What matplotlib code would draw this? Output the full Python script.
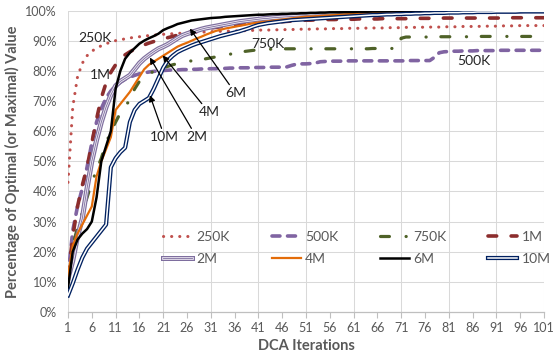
import matplotlib
matplotlib.use("Agg")
import matplotlib.pyplot as plt
from matplotlib.ticker import FixedLocator, FuncFormatter
from matplotlib.legend_handler import HandlerTuple

plt.rcParams['font.family'] = ['Lato', 'DejaVu Sans']

iterations = list(range(1, 102))

v250k = [
    43, 68, 78, 82.5, 85, 86.5, 87.5, 88.3, 89, 89.5,
    90, 90.3, 90.6, 90.9, 91.1, 91.3, 91.5, 91.7, 91.8, 92,
    92.1, 92.2, 92.3, 92.4, 92.5, 92.6, 92.6, 92.7, 92.8, 92.9,
    93.0, 93.0, 93.1, 93.1, 93.2, 93.2, 93.3, 93.3, 93.4, 93.4,
    93.5, 93.5, 93.5, 93.6, 93.6, 93.6, 93.7, 93.7, 93.7, 93.8,
    93.8, 93.8, 93.9, 93.9, 93.9, 94.0, 94.0, 94.0, 94.0, 94.1,
    94.1, 94.1, 94.1, 94.2, 94.2, 94.2, 94.2, 94.3, 94.3, 94.3,
    94.3, 94.4, 94.4, 94.4, 94.4, 94.5, 94.5, 94.5, 94.5, 94.6,
    94.6, 94.6, 94.6, 94.7, 94.7, 94.7, 94.7, 94.8, 94.8, 94.8,
    94.8, 94.9, 94.9, 94.9, 94.9, 95.0, 95.0, 95.0, 95.0, 95.0, 95.0]

v500k = [
    12, 27, 35, 41, 48, 56, 63, 67.5, 71, 73.3,
    75, 76.2, 77.2, 77.9, 78.5, 79, 79.3, 79.6, 79.8, 80,
    80.1, 80.2, 80.3, 80.3, 80.4, 80.4, 80.5, 80.5, 80.6, 80.6,
    80.7, 80.7, 80.8, 80.8, 80.9, 80.9, 81.0, 81.0, 81.0, 81.1,
    81.1, 81.1, 81.2, 81.2, 81.2, 81.2, 81.3, 81.8, 82.2, 82.3,
    82.3, 82.4, 82.6, 83.0, 83.1, 83.2, 83.2, 83.2, 83.2, 83.3,
    83.3, 83.3, 83.3, 83.3, 83.3, 83.3, 83.3, 83.3, 83.3, 83.3,
    83.3, 83.3, 83.4, 83.4, 83.4, 83.4, 83.4, 84.5, 86.0, 86.3,
    86.4, 86.5, 86.5, 86.6, 86.6, 86.6, 86.7, 86.7, 86.7, 86.7,
    86.7, 86.8, 86.8, 86.8, 86.8, 86.8, 86.8, 86.8, 86.8, 86.8, 86.8]

v750k = [
    11, 22, 28, 33, 38, 43, 47, 51, 56, 60,
    63, 66, 68, 70.5, 74, 76.5, 78, 79, 79.8, 80.5,
    81, 81.5, 82, 82.4, 82.8, 83.1, 83.3, 83.5, 83.7, 84,
    84.3, 84.6, 84.9, 85.2, 85.5, 85.8, 86.1, 86.4, 86.6, 86.8,
    86.9, 87.0, 87.1, 87.2, 87.2, 87.3, 87.3, 87.3, 87.3, 87.3,
    87.3, 87.3, 87.3, 87.3, 87.3, 87.3, 87.3, 87.3, 87.3, 87.3,
    87.3, 87.3, 87.3, 87.3, 87.4, 87.4, 87.4, 87.4, 87.4, 87.6,
    90.8, 91.2, 91.2, 91.2, 91.2, 91.2, 91.2, 91.3, 91.3, 91.3,
    91.3, 91.3, 91.3, 91.3, 91.3, 91.4, 91.4, 91.4, 91.4, 91.4,
    91.4, 91.4, 91.4, 91.4, 91.4, 91.4, 91.4, 91.4, 91.4, 91.4, 91.4]

v1m = [
    12, 25, 35, 42, 48, 56, 64, 71, 76, 79.5,
    82, 84, 85.3, 86.3, 87.2, 88, 88.6, 89.2, 89.7, 90.2,
    90.6, 91, 91.4, 91.8, 92.2, 92.6, 93, 93.3, 93.6, 93.9,
    94.2, 94.4, 94.6, 94.8, 95.0, 95.2, 95.3, 95.5, 95.6, 95.7,
    95.8, 95.9, 96.0, 96.1, 96.2, 96.3, 96.4, 96.5, 96.6, 96.7,
    96.8, 96.8, 96.9, 96.9, 97.0, 97.0, 97.0, 97.1, 97.1, 97.1,
    97.1, 97.2, 97.2, 97.2, 97.2, 97.2, 97.3, 97.3, 97.3, 97.3,
    97.3, 97.3, 97.4, 97.4, 97.4, 97.4, 97.4, 97.4, 97.4, 97.5,
    97.5, 97.5, 97.5, 97.5, 97.5, 97.5, 97.5, 97.5, 97.5, 97.5,
    97.5, 97.5, 97.5, 97.6, 97.6, 97.6, 97.6, 97.6, 97.6, 97.6, 97.6]

v2m = [
    11, 17, 25, 31, 41, 50, 57, 63, 68, 72,
    75, 76.5, 77.5, 78.5, 80.5, 82.5, 84, 85.2, 86.3, 87.3,
    88, 88.8, 89.8, 90.8, 91.7, 92.3, 92.8, 93.3, 93.8, 94.2,
    94.5, 94.8, 95.1, 95.4, 95.7, 96.0, 96.3, 96.5, 96.7, 96.9,
    97.1, 97.3, 97.4, 97.6, 97.7, 97.8, 97.9, 98.0, 98.1, 98.2,
    98.3, 98.4, 98.5, 98.6, 98.7, 98.8, 98.8, 98.9, 99.0, 99.0,
    99.1, 99.1, 99.2, 99.2, 99.3, 99.3, 99.3, 99.4, 99.4, 99.4,
    99.5, 99.5, 99.5, 99.5, 99.6, 99.6, 99.6, 99.6, 99.6, 99.7,
    99.7, 99.7, 99.7, 99.7, 99.7, 99.7, 99.8, 99.8, 99.8, 99.8,
    99.8, 99.8, 99.8, 99.8, 99.8, 99.8, 99.9, 99.9, 99.9, 99.9, 99.9]

v4m = [
    12, 22, 26, 29, 32, 35, 45, 50, 54, 58,
    67, 69, 71, 73, 75.5, 78, 80.5, 82, 83, 84,
    85, 86, 87, 88, 88.7, 89.3, 90, 90.7, 91.3, 92,
    92.6, 93.2, 93.6, 94.0, 94.3, 94.6, 94.9, 95.2, 95.5, 95.8,
    96.0, 96.2, 96.4, 96.6, 96.8, 97.0, 97.2, 97.4, 97.6, 97.8,
    97.9, 98.0, 98.1, 98.2, 98.3, 98.4, 98.5, 98.6, 98.7, 98.8,
    98.9, 98.9, 99.0, 99.0, 99.1, 99.1, 99.2, 99.2, 99.2, 99.3,
    99.3, 99.3, 99.4, 99.4, 99.4, 99.4, 99.5, 99.5, 99.5, 99.5,
    99.6, 99.6, 99.6, 99.6, 99.6, 99.7, 99.7, 99.7, 99.7, 99.7,
    99.7, 99.8, 99.8, 99.8, 99.8, 99.8, 99.8, 99.8, 99.8, 99.8, 99.8]

v6m = [
    8, 20, 24, 26, 27.5, 30, 38, 50, 55, 60,
    74, 80, 84, 86, 87.5, 89, 90, 90.8, 91.5, 92.3,
    93.5, 94.2, 94.8, 95.5, 95.9, 96.3, 96.7, 96.9, 97.1, 97.3,
    97.5, 97.6, 97.7, 97.9, 98.0, 98.1, 98.2, 98.3, 98.4, 98.5,
    98.6, 98.6, 98.7, 98.8, 98.8, 98.9, 98.9, 99.0, 99.0, 99.1,
    99.1, 99.2, 99.2, 99.3, 99.3, 99.4, 99.4, 99.4, 99.5, 99.5,
    99.5, 99.6, 99.6, 99.6, 99.7, 99.7, 99.7, 99.7, 99.8, 99.8,
    99.8, 99.8, 99.8, 99.8, 99.9, 99.9, 99.9, 99.9, 99.9, 99.9,
    99.9, 99.9, 99.9, 99.9, 99.9, 100, 100, 100, 100, 100,
    100, 100, 100, 100, 100, 100, 100, 100, 100, 100, 100]

v10m = [
    5.5, 9.5, 14, 18, 21, 23, 25, 27, 29, 48,
    51, 53, 54.5, 63, 67, 69, 70, 71, 74, 77.5,
    81, 83.5, 85, 86.2, 87, 87.7, 88.4, 89, 89.5, 90,
    90.5, 91.0, 91.5, 91.9, 92.3, 92.7, 93.1, 93.6, 94.1, 94.7,
    95.2, 95.5, 95.8, 96.0, 96.2, 96.4, 96.6, 96.8, 96.9, 97.0,
    97.1, 97.2, 97.3, 97.4, 97.5, 97.6, 97.7, 97.8, 97.9, 98.0,
    98.1, 98.2, 98.3, 98.4, 98.5, 98.5, 98.6, 98.7, 98.7, 98.8,
    98.8, 98.9, 98.9, 99.0, 99.0, 99.1, 99.1, 99.2, 99.2, 99.2,
    99.3, 99.3, 99.3, 99.4, 99.4, 99.4, 99.5, 99.5, 99.5, 99.5,
    99.6, 99.6, 99.6, 99.6, 99.6, 99.7, 99.7, 99.7, 99.7, 99.7, 99.7]

for s in (v250k, v500k, v750k, v1m, v2m, v4m, v6m, v10m):
    assert len(s) == len(iterations), len(s)

xtick_values = list(range(1, 102, 5))
ytick_values = [0, 10, 20, 30, 40, 50, 60, 70, 80, 90, 100]

GRAY_TXT = '#595959'
GRID = '#D9D9D9'

fig = plt.figure(figsize=(5.54, 3.6), dpi=100)
ax = fig.add_axes([68 / 554, 48 / 360, (544 - 68) / 554, (312 - 10.5) / 360])

for y in ytick_values:
    ax.axhline(y, color=GRID, lw=0.75, zorder=0)
for x in range(1, 102, 10):
    ax.axvline(x, color=GRID, lw=0.75, zorder=0)

h = {}
h['250K'], = ax.plot(iterations, v250k, color='#C0504D', lw=2.2,
                     linestyle=(0, (0.05, 2.6)), dash_capstyle='round', zorder=2)
h['500K'], = ax.plot(iterations, v500k, color='#8064A2', lw=2.6,
                     linestyle=(0, (2.2, 2.1)), dash_capstyle='round', zorder=2)
h['750K'], = ax.plot(iterations, v750k, color='#4F6228', lw=2.3,
                     linestyle=(0, (2.8, 5.2, 0.05, 4.6)), dash_capstyle='round', zorder=2)
h['1M'], = ax.plot(iterations, v1m, color='#8C2D2D', lw=2.6,
                   linestyle=(0, (2.4, 4.0)), dash_capstyle='round', zorder=2)

a1, = ax.plot(iterations, v2m, color='#7E6E9E', lw=3.6, zorder=3, solid_joinstyle='round')
a2, = ax.plot(iterations, v2m, color='#EDE9F3', lw=1.9, zorder=3, solid_joinstyle='round')
a3, = ax.plot(iterations, v2m, color='#7E6E9E', lw=0.6, zorder=3, solid_joinstyle='round')
h['2M'] = (a1, a2, a3)

h['4M'], = ax.plot(iterations, v4m, color='#E36C09', lw=1.6, zorder=4)
h['6M'], = ax.plot(iterations, v6m, color='black', lw=1.8, zorder=5)

b1, = ax.plot(iterations, v10m, color='#002060', lw=3.0, zorder=6)
b2, = ax.plot(iterations, v10m, color='white', lw=1.1, zorder=6)
h['10M'] = (b1, b2)

ax.set_xlim(1, 101)
ax.set_ylim(0, 100)

ax.xaxis.set_major_locator(FixedLocator(xtick_values))
ax.yaxis.set_major_locator(FixedLocator(ytick_values))
ax.yaxis.set_major_formatter(FuncFormatter(lambda v, p: f"{int(v)}%"))
ax.tick_params(axis='x', length=4, color='#BFBFBF', labelsize=9, labelcolor=GRAY_TXT, pad=3)
ax.tick_params(axis='y', length=0, labelsize=9, labelcolor=GRAY_TXT, pad=8)

for side in ('top', 'right', 'left'):
    ax.spines[side].set_visible(False)
ax.spines['bottom'].set_color('#BFBFBF')
ax.spines['bottom'].set_linewidth(0.9)

ax.set_xlabel('DCA Iterations', fontsize=10.5, fontweight='bold', color=GRAY_TXT, labelpad=4)
ax.set_ylabel('Percentage of Optimal (or Maximal) Value', fontsize=10.5,
              fontweight='bold', color=GRAY_TXT, labelpad=4)

# ncol=4 fills column-wise; reorder so rows read left-to-right
col_order = ['250K', '2M', '500K', '4M', '750K', '6M', '1M', '10M']
leg = ax.legend([h[k] for k in col_order], col_order, ncol=4, loc='upper left',
                bbox_to_anchor=(0.2, 0.27), frameon=False, fontsize=10,
                handlelength=2.1, handletextpad=0.3, columnspacing=3.0,
                labelspacing=0.75, borderpad=0, borderaxespad=0,
                handler_map={tuple: HandlerTuple(ndivide=1, pad=0)})
for t in leg.get_texts():
    t.set_color(GRAY_TXT)

TXT = '#262626'
ax.text(6.7, 91, '250K', fontsize=10, color=TXT, ha='center', va='center')
ax.text(7.7, 78.5, '1M', fontsize=10, color=TXT, ha='center', va='center')
ax.text(42.9, 89, '750K', fontsize=10, color=TXT, ha='center', va='center')
ax.text(86.3, 83.4, '500K', fontsize=10, color=TXT, ha='center', va='center')

arrow = dict(arrowstyle='-|>', color='black', lw=0.9, mutation_scale=9, shrinkA=0, shrinkB=0)
ax.annotate('6M', xy=(26.6, 94), xytext=(36.2, 72.5), fontsize=10, color=TXT,
            ha='center', va='center', arrowprops=arrow, zorder=7)
ax.annotate('4M', xy=(20.9, 85.1), xytext=(30.6, 66.2), fontsize=10, color=TXT,
            ha='center', va='center', arrowprops=arrow, zorder=7)
ax.annotate('2M', xy=(18.2, 84.4), xytext=(28.0, 58.0), fontsize=10, color=TXT,
            ha='center', va='center', arrowprops=arrow, zorder=7)
ax.annotate('10M', xy=(18.2, 71.9), xytext=(21.3, 58.0), fontsize=10, color=TXT,
            ha='center', va='center', arrowprops=arrow, zorder=7)

fig.savefig('out.png', dpi=100)
